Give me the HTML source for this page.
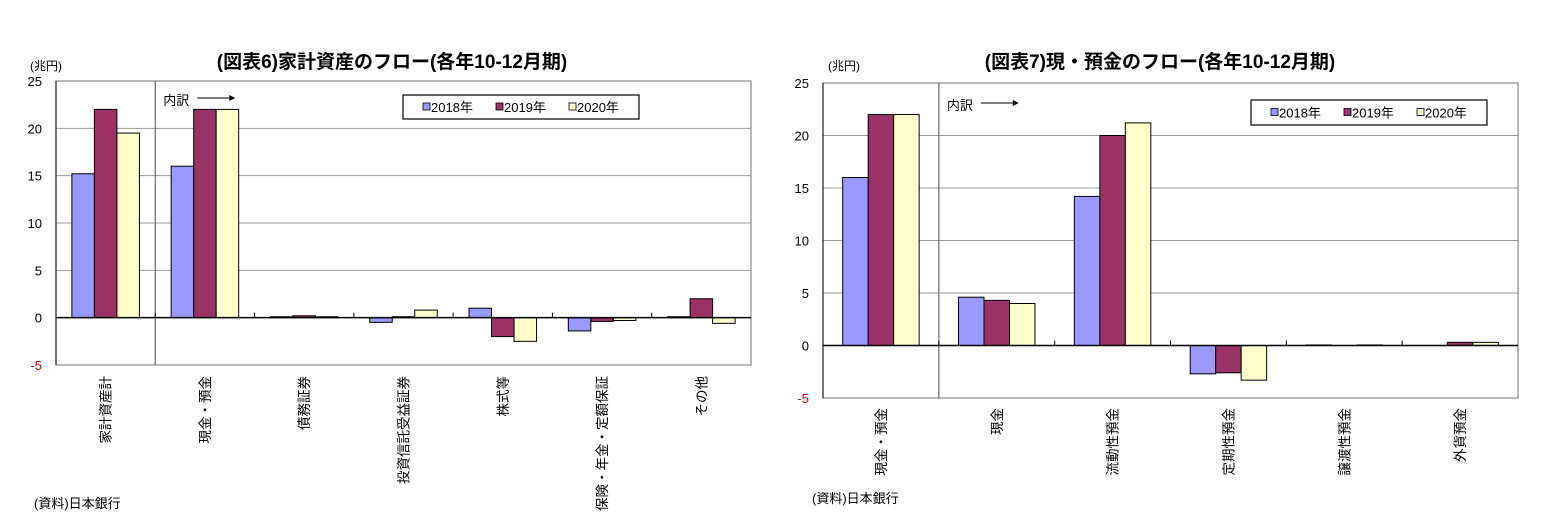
<!DOCTYPE html>
<html><head><meta charset="utf-8"><style>
body{margin:0;background:#fff;width:1557px;height:527px;overflow:hidden;font-family:"Liberation Sans","Noto Sans CJK JP",sans-serif}
svg{display:block}
text{font-family:"Liberation Sans","Noto Sans CJK JP",sans-serif}
</style></head><body>
<svg id="svg" width="1557" height="527">
<text x="30" y="70" font-size="12" fill="#000">(兆円)</text>
<text x="392" y="68" font-size="19" font-weight="bold" text-anchor="middle">(図表6)家計資産のフロー(各年10-12月期)</text>
<text x="34" y="508" font-size="13">(資料)日本銀行</text>
<text x="828" y="70" font-size="12">(兆円)</text>
<text x="1160" y="68" font-size="19" font-weight="bold" text-anchor="middle">(図表7)現・預金のフロー(各年10-12月期)</text>
<text x="812" y="503" font-size="13">(資料)日本銀行</text>
</svg>
<script>
const cats1=["家計資産計","現金・預金","債務証券","投資信託受益証券","株式等","保険・年金・定額保証","その他"];
const s2018a=[15.2,16,0.1,-0.5,1.0,-1.4,0.1];
const s2019a=[22,22,0.2,0.1,-2.0,-0.4,2.0];
const s2020a=[19.5,22,0.1,0.8,-2.5,-0.3,-0.6];
const cats2=["現金・預金","現金","流動性預金","定期性預金","譲渡性預金","外貨預金"];
const s2018b=[16,4.6,14.2,-2.7,0.05,0];
const s2019b=[22,4.3,20,-2.6,0,0.3];
const s2020b=[22,4.0,21.2,-3.3,0.05,0.3];
const ticks=[25,20,15,10,5,0,-5];
const seriesNames=["2018年","2019年","2020年"];
const colors=["#9999FF","#993366","#FFFFCC"];
const NS="http://www.w3.org/2000/svg";
const svg=document.getElementById('svg');
function el(t,a,p){const e=document.createElementNS(NS,t);for(const k in a)e.setAttribute(k,a[k]);(p||svg).appendChild(e);return e;}
function draw(o){
  const g=el('g',{});
  
  
  const y=v=>o.top+(25-v)*(o.bottom-o.top)/30;
  const cw=(o.right-o.left)/o.cats.length;
  const x=i=>o.left+i*cw;
  ticks.forEach(t=>{
    if(t!==0&&t!==25&&t!==-5){const l=el('line',{x1:o.left,x2:o.right,y1:y(t),y2:y(t),stroke:'#999','stroke-width':1},g);
    
    }
    const tx=el('text',{x:o.left-14,y:y(t)+5,'font-size':13,'text-anchor':'end',fill:t<0?'#c00':'#000'},g);
    tx.textContent=t;
    
    
  });
  const fr=el('rect',{x:o.left,y:o.top,width:o.right-o.left,height:o.bottom-o.top,fill:'none',stroke:'#888','stroke-width':1.2},g);
  
  
  el('line',{x1:o.left,x2:o.left,y1:o.top,y2:o.bottom,stroke:'#000'},g);
  const dv=el('line',{x1:x(1),x2:x(1),y1:o.top,y2:o.bottom,stroke:'#666','stroke-width':1.2},g);
  
  
  const gw=cw*o.gf, bw=gw/3;
  o.cats.forEach((c,i)=>{
    [o.a,o.b,o.c].forEach((s,k)=>{
      const v=s[i]; const bx=x(i)+(cw-gw)/2+k*bw;
      const r=el('rect',{x:bx,y:Math.min(y(v),y(0)),width:bw,height:Math.max(Math.abs(y(v)-y(0)),0.01),fill:colors[k],stroke:'#000','stroke-width':1},g);
      
      
    });
    const cx=x(i)+cw/2;
    const lt=el('text',{x:0,y:0,'font-size':13.5,'text-anchor':'end',transform:`translate(${cx+5},${o.lab}) rotate(-90)`},g);
    lt.textContent=c;
    
    
    if(i>0)el('line',{x1:x(i),x2:x(i),y1:y(0),y2:y(0)-5,stroke:'#000'},g);
  });
  el('line',{x1:o.left,x2:o.right,y1:y(0),y2:y(0),stroke:'#000','stroke-width':1.5},g);
  // 内訳
  const nt=el('text',{x:x(1)+8,y:o.top+o.nty,'font-size':13},g);
  nt.textContent='内訳';
  
  
  el('line',{x1:x(1)+42,x2:x(1)+76,y1:o.top+o.nty-7,y2:o.top+o.nty-7,stroke:'#000'},g);
  el('path',{d:`M${x(1)+80} ${o.top+o.nty-7} l-6 -3 v6z`,fill:'#000'},g);
  const lg=el('g',{},g);
  
  
  el('rect',{x:o.lx,y:o.ly,width:236,height:o.lh,fill:'#fff',stroke:'#000','stroke-width':1.2},lg);
  seriesNames.forEach((n,k)=>{
    const ex=o.lx+20+k*73, ey=o.ly+o.lh/2;
    const sw=el('rect',{x:ex,y:ey-4,width:7,height:7,fill:colors[k],stroke:'#000','stroke-width':0.8},lg);
    
    
    const t=el('text',{x:ex+8,y:ey+5,'font-size':13},lg);
    t.textContent=n;
    
    
  });
}
draw({name:'chart6',cats:cats1,a:s2018a,b:s2019a,c:s2020a,left:56,right:751,top:81,bottom:365,gf:0.68,lab:376,nty:24,lx:403,ly:95,lh:24});
draw({name:'chart7',cats:cats2,a:s2018b,b:s2019b,c:s2020b,left:823,right:1518,top:83,bottom:398,gf:0.66,lab:408,nty:27,lx:1251,ly:100,lh:25});
</script>
</body></html>
